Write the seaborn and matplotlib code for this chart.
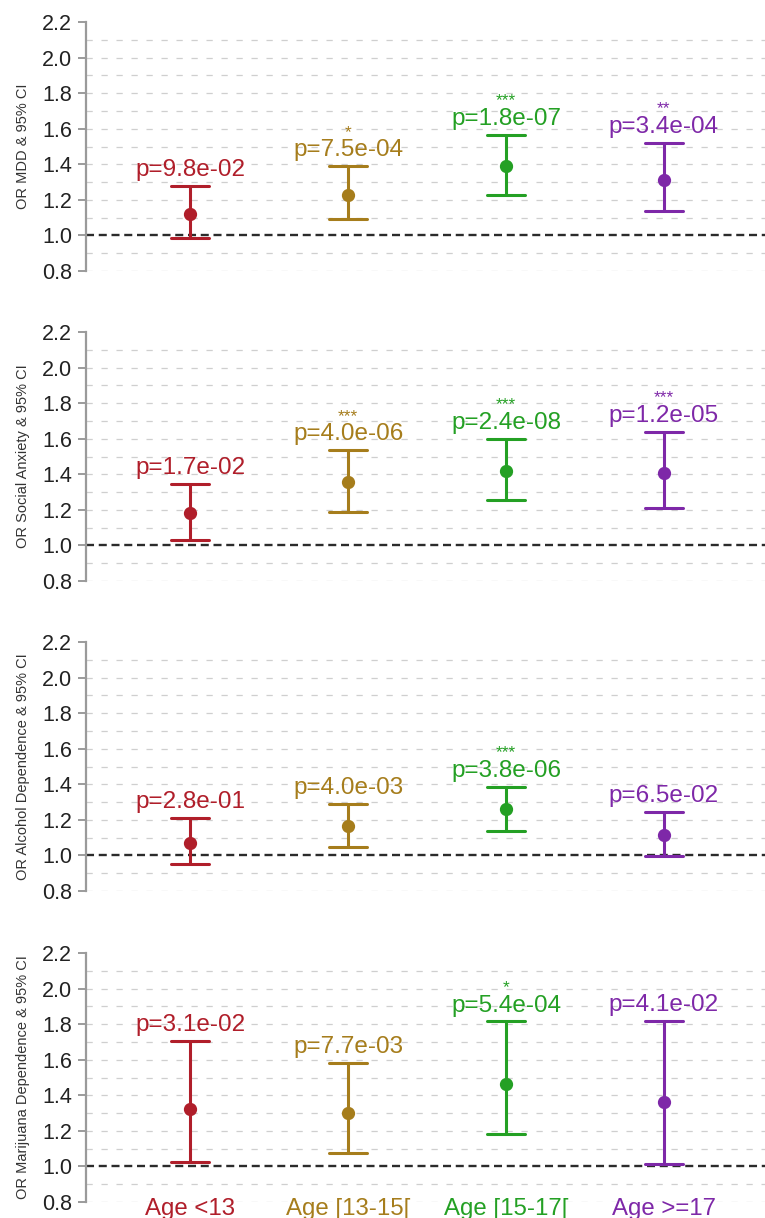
import numpy as np
import pandas as pd
import matplotlib
matplotlib.use("Agg")
import matplotlib.pyplot as plt
import seaborn as sns

# Age-at-onset groups and their colours
groups = ["Age <13", "Age [13-15[", "Age [15-17[", "Age >=17"]
palette = ["#B01E2A", "#A67D1C", "#24A024", "#7E28A8"]

# Odds ratios with 95% CI, p-values and significance marks per outcome
mdd_or = [1.12, 1.23, 1.39, 1.31]
mdd_lo = [0.985, 1.095, 1.23, 1.135]
mdd_hi = [1.28, 1.39, 1.565, 1.52]
mdd_p = ["9.8e-02", "7.5e-04", "1.8e-07", "3.4e-04"]
mdd_sig = ["", "*", "***", "**"]

soc_or = [1.18, 1.355, 1.42, 1.41]
soc_lo = [1.03, 1.19, 1.255, 1.21]
soc_hi = [1.345, 1.535, 1.60, 1.64]
soc_p = ["1.7e-02", "4.0e-06", "2.4e-08", "1.2e-05"]
soc_sig = ["", "***", "***", "***"]

alc_or = [1.07, 1.165, 1.26, 1.115]
alc_lo = [0.95, 1.05, 1.14, 0.995]
alc_hi = [1.21, 1.29, 1.385, 1.245]
alc_p = ["2.8e-01", "4.0e-03", "3.8e-06", "6.5e-02"]
alc_sig = ["", "", "***", ""]

mj_or = [1.325, 1.30, 1.465, 1.36]
mj_lo = [1.025, 1.075, 1.18, 1.015]
mj_hi = [1.705, 1.58, 1.815, 1.82]
mj_p = ["3.1e-02", "7.7e-03", "5.4e-04", "4.1e-02"]
mj_sig = ["", "", "*", ""]

panels = [
    ("OR MDD & 95% CI", mdd_or, mdd_lo, mdd_hi, mdd_p, mdd_sig),
    ("OR Social Anxiety & 95% CI", soc_or, soc_lo, soc_hi, soc_p, soc_sig),
    ("OR Alcohol Dependence & 95% CI", alc_or, alc_lo, alc_hi, alc_p, alc_sig),
    ("OR Marijuana Dependence & 95% CI", mj_or, mj_lo, mj_hi, mj_p, mj_sig),
]

yticks = [0.8, 1.0, 1.2, 1.4, 1.6, 1.8, 2.0, 2.2]
grid_levels = [0.8, 0.9, 1.1, 1.2, 1.3, 1.4, 1.5, 1.6, 1.7, 1.8, 1.9, 2.0, 2.1]

sns.set_theme(style="white")
plt.rcParams["font.family"] = ["Liberation Sans", "DejaVu Sans"]

W, H = 765, 1218
fig = plt.figure(figsize=(W / 100, H / 100), dpi=100)

ax_left, ax_w, ax_h = 86, 679, 249
tops = [22, 332, 642, 953]

for k, (ylab, est, lo, hi, pv, sig) in enumerate(panels):
    top = tops[k]
    ax = fig.add_axes([ax_left / W, 1 - (top + ax_h) / H, ax_w / W, ax_h / H])

    # long table: lower bound, estimate and upper bound for each group;
    # the median is the estimate and the full range is the CI
    df = pd.DataFrame({
        "group": np.repeat(groups, 3),
        "value": np.ravel(np.column_stack([lo, est, hi])),
    })

    for lvl in grid_levels:
        ax.axhline(lvl, color="#cfcfcf", lw=0.9, ls=(0, (5, 7)), zorder=0)
    ax.axhline(1.0, color="#2b2b2b", lw=1.7, ls=(0, (3.4, 2.0)), zorder=1)

    sns.pointplot(
        data=df, x="group", y="value", hue="group",
        order=groups, hue_order=groups, palette=palette,
        estimator="median", errorbar=("pi", 100),
        capsize=0.24, linestyle="none", marker="o", markersize=7.5,
        err_kws={"linewidth": 2.2}, legend=False, ax=ax, zorder=3,
    )

    for i in range(len(groups)):
        ax.text(i, hi[i] + 0.056, f"p={pv[i]}", ha="center", va="baseline",
                color=palette[i], fontsize=17.5, zorder=4)
        if sig[i]:
            ax.text(i, hi[i] + 0.165, sig[i], ha="center", va="baseline",
                    color=palette[i], fontsize=12.5, zorder=4)

    ax.set_xlim(-0.66, 3.64)
    ax.set_ylim(0.8, 2.2)
    ax.set_yticks(yticks)
    ax.set_yticklabels([f"{t:.1f}" for t in yticks])
    ax.tick_params(axis="y", which="major", length=6, width=1.2,
                   color="#8a8a8a", pad=4, labelsize=15.5, labelcolor="#222222", left=True)
    ax.set_ylabel(ylab, fontsize=10.5, color="#333333")
    ax.yaxis.set_label_coords(-0.083, 0.5)
    ax.set_xlabel("")

    for side in ["top", "right", "bottom"]:
        ax.spines[side].set_visible(False)
    ax.spines["left"].set_color("#9a9a9a")
    ax.spines["left"].set_linewidth(1.6)
    ax.grid(False)

    if k == len(panels) - 1:
        ax.tick_params(axis="x", length=0, pad=-3, labelsize=17.3)
        for lab, c in zip(ax.get_xticklabels(), palette):
            lab.set_color(c)
    else:
        ax.tick_params(axis="x", length=0, labelbottom=False)

fig.savefig("out.png", dpi=100, facecolor="white")
